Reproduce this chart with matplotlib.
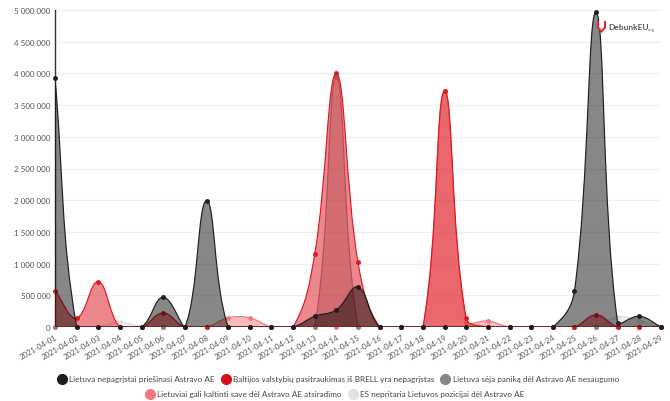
import numpy as np
import matplotlib
matplotlib.use("Agg")
import matplotlib.pyplot as plt
from matplotlib.path import Path
from matplotlib.patches import PathPatch, Polygon
from matplotlib.lines import Line2D
from matplotlib.ticker import FuncFormatter, MultipleLocator

plt.rcParams['font.family'] = ['Lato', 'DejaVu Sans']

dates = ['2021-04-%02d' % d for d in range(1, 30)]

black_vals = [3930000, 0, 0, 0, 0, 470000, 0, 1990000, 0, 0, 0, 0, 170000, 270000, 630000,
              0, 0, 0, 0, 0, 0, 0, 0, 0, 565000, 4970000, 60000, 170000, 0]
red_vals = [570000, 140000, 715000, 0, 0, 220000, 0, 0, 0, 0, 0, 0, 1150000, 4000000, 1020000,
            0, 0, 0, 3720000, 142000, 0, 0, 0, 0, 0, 190000, 0, 0, 0]
gray_vals = [0] * 13 + [3940000] + [0] * 15
lightred_vals = [0, 0, 0, 0, 0, 0, 0, 0, 145000, 145000, 0, 0, 0, 0, 0,
                 0, 0, 0, 3720000, 80000, 95000, 0, 0, 0, 0, 0, 0, 0, 0]
lightgray_vals = [0, 0, 0, 80000, 0] + [0] * 21 + [160000, 100000, 0]

names = ['Lietuva nepagrįstai priešinasi Astravo AE',
         'Baltijos valstybių pasitraukimas iš BRELL yra nepagrįstas',
         'Lietuva sėja paniką dėl Astravo AE nesaugumo',
         'Lietuviai gali kaltinti save dėl Astravo AE atsiradimo',
         'ES nepritaria Lietuvos pozicijai dėl Astravo AE']
series = [black_vals, red_vals, gray_vals, lightred_vals, lightgray_vals]
line_colors = ['#1e1e1e', '#dc1a24', '#8c8587', '#f27a7c', '#dedede']
fill_colors = ['#000000', '#dc1a24', '#8c8587', '#f27a7c', '#dedede']
fill_alpha = [0.47, 0.52, 0.45, 0.5, 0.5]
legend_colors = ['#1e1e1e', '#d6101c', '#8c8587', '#f27a7c', '#e2e2e2']

W, H = 670, 402
fig = plt.figure(figsize=(W / 100, H / 100), dpi=100)
L, R, T, B = 55, 661, 11, 328
ax = fig.add_axes([L / W, (H - B) / H, (R - L) / W, (B - T) / H])
ymax = 5_000_000
n = len(dates)
ax.set_xlim(0, n - 1)
ax.set_ylim(0, ymax)

sx = (R - L) / (n - 1)
sy = (B - T) / ymax
tension = 0.4


def spline_path(vals):
    P = np.array([[i * sx, v * sy] for i, v in enumerate(vals)], dtype=float)
    cprev, cnext = [], []
    m = len(P)
    for i in range(m):
        prev = P[max(i - 1, 0)]
        cur = P[i]
        nxt = P[min(i + 1, m - 1)]
        d01 = np.hypot(*(cur - prev))
        d12 = np.hypot(*(nxt - cur))
        s = d01 + d12
        s01 = d01 / s if s else 0
        s12 = d12 / s if s else 0
        fa, fb = tension * s01, tension * s12
        cp = cur - fa * (nxt - prev)
        cn = cur + fb * (nxt - prev)
        for c in (cp, cn):
            c[0] = min(max(c[0], 0), (m - 1) * sx)
            c[1] = min(max(c[1], 0), ymax * sy)
        cprev.append(cp)
        cnext.append(cn)
    verts = [P[0]]
    codes = [Path.MOVETO]
    for i in range(m - 1):
        verts += [cnext[i], cprev[i + 1], P[i + 1]]
        codes += [Path.CURVE4] * 3
    verts = np.array(verts)
    verts[:, 0] /= sx
    verts[:, 1] /= sy
    return verts, codes


# grid
ax.yaxis.set_major_locator(MultipleLocator(500000))
ax.grid(axis='y', color='#eeeeee', linewidth=0.8, zorder=0)
ax.set_axisbelow(True)

order = [4, 3, 2, 1, 0]
for k, idx in enumerate(order):
    verts, codes = spline_path(series[idx])
    fverts = np.vstack([verts, [[n - 1, 0], [0, 0], [0, 0]]])
    fcodes = codes + [Path.LINETO, Path.LINETO, Path.CLOSEPOLY]
    ax.add_patch(PathPatch(Path(fverts, fcodes), facecolor=fill_colors[idx],
                           alpha=fill_alpha[idx], edgecolor='none', zorder=2 + k * 3))
    ax.add_patch(PathPatch(Path(verts, codes), facecolor='none',
                           edgecolor=line_colors[idx], linewidth=0.85, zorder=3 + k * 3))
    ax.plot(range(n), series[idx], linestyle='none', marker='o', ms=2.5,
            color=line_colors[idx], zorder=4 + k * 3, clip_on=False)

for s in ['top', 'right', 'bottom']:
    ax.spines[s].set_visible(False)
ax.spines['left'].set_color('#333333')
ax.spines['left'].set_linewidth(1.0)

ax.set_xticks(range(n))
ax.set_xticklabels(dates, rotation=30, ha='right', rotation_mode='anchor',
                   fontsize=5.6, color='#555555')
ax.tick_params(axis='x', length=0, pad=4)
ax.tick_params(axis='y', length=0, pad=3, labelsize=5.8, labelcolor='#555555')
ax.yaxis.set_major_formatter(FuncFormatter(lambda v, p: f'{int(v):,}'.replace(',', ' ')))

# legend
def handle(c):
    return Line2D([], [], marker='o', linestyle='none', markersize=7,
                  markerfacecolor=c, markeredgecolor=c)

kw = dict(frameon=False, fontsize=5.9, handletextpad=0.45, columnspacing=0.8,
          handlelength=1.0, labelcolor='#444444', borderaxespad=0, borderpad=0)
leg1 = fig.legend([handle(c) for c in legend_colors[:3]], names[:3], ncol=3,
                  loc='center', bbox_to_anchor=(0.505, 1 - 380 / H), **kw)
leg2 = fig.legend([handle(c) for c in legend_colors[3:]], names[3:], ncol=2,
                  loc='center', bbox_to_anchor=(0.5, 1 - 395 / H), **kw)

# logo
def fx(x):
    return x / W


def fy(y):
    return 1 - y / H


shield = [(597, 22), (606, 22), (606, 29), (601.5, 34), (597, 29)]
fig.patches.append(Polygon([(fx(a), fy(b)) for a, b in shield], closed=True,
                           transform=fig.transFigure, facecolor='#e3262d',
                           edgecolor='none', zorder=10))
inner = [(599, 22), (604, 22), (604, 28), (601.5, 31), (599, 28)]
fig.patches.append(Polygon([(fx(a), fy(b)) for a, b in inner], closed=True,
                           transform=fig.transFigure, facecolor='white',
                           edgecolor='none', zorder=11))
fig.text(fx(608), fy(28), 'DebunkEU', fontsize=6.0, fontweight='bold',
         color='#555555', va='center', ha='left')
fig.text(fx(648), fy(29.5), '.org', fontsize=3.2, color='#555555',
         va='center', ha='left')

fig.savefig('out.png', dpi=100, facecolor='white')
